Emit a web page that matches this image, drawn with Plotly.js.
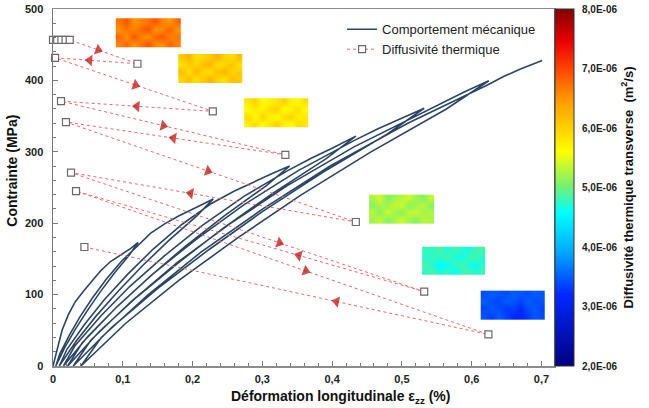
<!DOCTYPE html>
<html>
<head>
<meta charset="utf-8">
<script src="https://cdn.plot.ly/plotly-3.0.1.min.js"></script>
<style>
  html, body { margin: 0; padding: 0; background: #fff; }
  #chart { width: 649px; height: 408px; }
</style>
</head>
<body>
<div id="chart"></div>
<script>
// Cyclic tensile test: stress (MPa) against longitudinal strain (%)
// first loading, then for each cycle: unloading, reloading and further loading
const strain = [
  0, 0.006, 0.013, 0.022, 0.032, 0.043, 0.055, 0.068, 0.082, 0.1, 0.112, 0.122,
  0.1096, 0.0878, 0.0677, 0.0494, 0.0323, 0.017, 0.004,
  0.0099, 0.0235, 0.0388, 0.0565, 0.076, 0.0984, 0.120,
  0.14, 0.16, 0.18, 0.205, 0.2297,
  0.2065, 0.1657, 0.1282, 0.094, 0.062, 0.0333, 0.009,
  0.0200, 0.0454, 0.0741, 0.1072, 0.1436, 0.1856, 0.2277,
  0.26, 0.29, 0.315, 0.339,
  0.305, 0.245, 0.19, 0.1397, 0.0928, 0.0506, 0.015,
  0.0312, 0.0685, 0.1106, 0.1592, 0.2126, 0.2742, 0.337,
  0.37, 0.40, 0.434,
  0.3906, 0.3142, 0.244, 0.18, 0.1201, 0.0664, 0.021,
  0.0417, 0.0892, 0.1428, 0.2048, 0.2729, 0.3514, 0.432,
  0.465, 0.50, 0.532,
  0.4792, 0.3861, 0.3006, 0.2227, 0.1497, 0.0843, 0.029,
  0.0542, 0.112, 0.1774, 0.2528, 0.3358, 0.4314, 0.530,
  0.56, 0.59, 0.6246,
  0.5632, 0.4551, 0.3557, 0.2651, 0.1803, 0.1043, 0.04,
  0.0692, 0.1365, 0.2125, 0.3002, 0.3966, 0.5077, 0.6226,
  0.645, 0.67, 0.701
];
const stress = [
  0, 25, 50, 72, 90, 104, 118, 133, 146, 158, 165, 173,
  155.7, 129.8, 103.8, 77.9, 51.9, 26, 0,
  17.3, 43.3, 69.2, 95.2, 121.1, 147.1, 167,
  186, 199, 210, 222, 234,
  210.6, 175.5, 140.4, 105.3, 70.2, 35.1, 0,
  23.4, 58.5, 93.6, 128.7, 163.8, 198.9, 228,
  245, 259, 270, 280,
  252, 210, 168, 126, 84, 42, 0,
  28, 70, 112, 154, 196, 238, 274,
  291, 305, 322,
  289.8, 241.5, 193.2, 144.9, 96.6, 48.3, 0,
  32.2, 80.5, 128.8, 177.1, 225.4, 273.7, 316,
  332, 347, 361,
  324.9, 270.8, 216.6, 162.5, 108.3, 54.2, 0,
  36.1, 90.3, 144.4, 198.6, 252.7, 306.9, 355,
  370, 384, 399.5,
  359.6, 299.6, 239.7, 179.8, 119.9, 59.9, 0,
  40, 99.9, 159.8, 219.7, 279.7, 339.6, 393.5,
  405, 416, 428
];

// Transverse thermal diffusivity (1e-6 m2/s), in measurement order
const diffStrain = [0, 0.006, 0.012, 0.018, 0.024, 0.121, 0.003, 0.229, 0.0115,
                    0.333, 0.0186, 0.434, 0.0258, 0.532, 0.033, 0.624, 0.045];
const diffValue  = [7.48, 7.48, 7.48, 7.48, 7.48, 7.08, 7.18, 6.28, 6.45,
                    5.55, 6.10, 4.42, 5.25, 3.25, 4.94, 2.53, 4.00];
// where the direction arrow sits along each leg (fraction of the leg)
const arrowAt = [0.42, 0.58, 0.51, 0.50, 0.456, 0.51, 0.49, 0.58, 0.59, 0.36, 0.557, 0.376];

// Diffusivity maps of the specimen (1e-6 m2/s) and the strain/stress box each one occupies
const mapBoxes = [
  [0.090, 0.183, 446, 487],
  [0.1795, 0.271, 397, 437],
  [0.274, 0.366, 334, 375],
  [0.453, 0.546, 200, 240],
  [0.529, 0.619, 128, 167],
  [0.613, 0.705, 65.5, 105.5]
];
const mapValues = [
  [[6.6, 6.8, 6.5, 6.7, 6.9, 6.6, 6.5, 6.8, 6.6],
   [6.8, 6.5, 6.9, 6.6, 6.5, 6.8, 6.9, 6.6, 6.7],
   [6.5, 6.7, 6.6, 6.8, 6.9, 6.5, 6.6, 6.8, 6.5],
   [6.7, 6.9, 6.5, 6.6, 6.7, 6.9, 6.6, 6.5, 6.8]],
  [[5.95, 6.15, 5.85, 6.05, 6.25, 5.95, 5.85, 6.15, 6.05],
   [6.15, 5.85, 6.25, 5.95, 5.85, 6.15, 6.25, 5.95, 6.05],
   [5.85, 6.05, 5.95, 6.15, 6.25, 5.85, 5.95, 6.15, 5.85],
   [6.05, 6.25, 5.85, 5.95, 6.05, 6.25, 5.95, 5.85, 6.15]],
  [[5.7, 5.9, 5.6, 5.8, 6.0, 5.7, 5.6, 5.9, 5.8],
   [5.9, 5.6, 6.0, 5.7, 5.6, 5.9, 6.0, 5.7, 5.8],
   [5.6, 5.8, 5.7, 5.9, 6.0, 5.6, 5.7, 5.9, 5.6],
   [5.8, 6.0, 5.6, 5.7, 5.8, 6.0, 5.7, 5.6, 5.9]],
  [[5.2, 5.35, 5.1, 5.25, 5.4, 5.2, 5.1, 5.3, 5.25],
   [5.3, 5.1, 5.4, 5.2, 5.1, 5.35, 5.4, 5.2, 5.25],
   [5.1, 5.25, 5.2, 5.35, 5.4, 5.1, 5.2, 5.3, 5.1],
   [5.25, 5.4, 5.1, 5.2, 5.3, 5.4, 5.2, 5.1, 5.35]],
  [[4.75, 4.85, 4.65, 4.8, 4.6, 4.75, 4.85, 4.7, 4.8],
   [4.85, 4.7, 4.55, 4.6, 4.75, 4.85, 4.7, 4.6, 4.75],
   [4.7, 4.8, 4.75, 4.85, 4.7, 4.6, 4.8, 4.85, 4.7],
   [4.8, 4.75, 4.85, 4.7, 4.8, 4.75, 4.65, 4.8, 4.85]],
  [[3.45, 3.3, 3.5, 3.35, 3.2, 3.15, 3.3, 3.45, 3.4],
   [3.35, 3.5, 3.4, 3.3, 3.35, 3.2, 3.4, 3.5, 3.35],
   [3.5, 3.4, 3.35, 3.5, 3.45, 3.35, 3.5, 3.4, 3.45],
   [3.4, 3.5, 3.45, 3.4, 3.5, 3.45, 3.4, 3.5, 3.45]]
];

// Tick labels
const xTickVals = [0, 0.1, 0.2, 0.3, 0.4, 0.5, 0.6, 0.7];
const xTickText = ['0', '0,1', '0,2', '0,3', '0,4', '0,5', '0,6', '0,7'];
const yTickVals = [0, 100, 200, 300, 400, 500];
const yTickText = ['0', '100', '200', '300', '400', '500'];
const cTickVals = [2, 3, 4, 5, 6, 7, 8];
const cTickText = ['2,0E-06', '3,0E-06', '4,0E-06', '5,0E-06', '6,0E-06', '7,0E-06', '8,0E-06'];

const FONT = 'Liberation Sans, Arial, Helvetica, sans-serif';
const traces = [];

// diffusivity maps, drawn under the curves (cells given by their centres)
mapBoxes.forEach((b, i) => {
  const z = mapValues[i];
  const nx = z[0].length, ny = z.length;
  const dx = (b[1] - b[0]) / nx, dy = (b[3] - b[2]) / ny;
  traces.push({
    type: 'heatmap', z: z, x0: b[0] + dx / 2, dx: dx, y0: b[2] + dy / 2, dy: dy,
    zsmooth: 'best', coloraxis: 'coloraxis', hoverinfo: 'skip', showlegend: false
  });
});

traces.push({
  type: 'scatter', mode: 'lines', name: 'Comportement mécanique',
  x: strain, y: stress,
  line: { color: '#2c4563', width: 1.6 }
});

traces.push({
  type: 'scatter', mode: 'lines+markers', name: 'Diffusivité thermique',
  x: diffStrain, y: diffValue, yaxis: 'y2', cliponaxis: false,
  line: { color: '#e36b6b', width: 1, dash: 'dot' },
  marker: { symbol: 'square', size: 7, color: '#ffffff', line: { color: '#6a6a6a', width: 1.2 } }
});

// direction arrows: each one is preceded by an invisible point at the start of its leg
const arX = [], arY = [], arS = [];
arrowAt.forEach((t, i) => {
  const a = i + 4, b = a + 1;
  arX.push(diffStrain[a]); arY.push(diffValue[a]); arS.push(0);
  arX.push(diffStrain[a] + t * (diffStrain[b] - diffStrain[a]));
  arY.push(diffValue[a] + t * (diffValue[b] - diffValue[a]));
  arS.push(10);
});
traces.push({
  type: 'scatter', mode: 'markers', x: arX, y: arY, yaxis: 'y2', showlegend: false,
  hoverinfo: 'skip',
  marker: { symbol: 'triangle-up', size: arS, color: '#c00000', angleref: 'previous', line: { width: 0 } }
});

const tickFont = { family: FONT, size: 11, color: '#222', weight: 'bold' };

const layout = {
  width: 649, height: 408,
  margin: { l: 53, r: 95, t: 9, b: 42 },
  paper_bgcolor: '#ffffff', plot_bgcolor: '#ffffff',
  font: { family: FONT, color: '#222' },
  xaxis: {
    range: [0, 0.718], tickmode: 'array', tickvals: xTickVals, ticktext: xTickText,
    ticks: 'inside', ticklen: 5, tickcolor: '#7a7a7a', tickwidth: 1,
    showline: true, linecolor: '#8c8c8c', linewidth: 1.5, mirror: true,
    showgrid: false, zeroline: false, tickfont: tickFont, ticklabelstandoff: 2,
    minor: { tick0: 0, dtick: 0.02, ticks: 'inside', ticklen: 3, tickcolor: '#7a7a7a' }
  },
  yaxis: {
    range: [0, 500], tickmode: 'array', tickvals: yTickVals, ticktext: yTickText,
    ticks: 'inside', ticklen: 5, tickcolor: '#7a7a7a', tickwidth: 1,
    showline: true, linecolor: '#7a7a7a', linewidth: 1.5, mirror: true,
    showgrid: false, zeroline: false, tickfont: tickFont, ticklabelstandoff: 6,
    minor: { tick0: 0, dtick: 20, ticks: 'inside', ticklen: 3, tickcolor: '#7a7a7a' }
  },
  yaxis2: { overlaying: 'y', range: [2, 8], visible: false },
  coloraxis: {
    cmin: 2, cmax: 8,
    colorscale: [
      [0, 'rgb(0,0,128)'], [0.2, 'rgb(0,40,255)'], [0.32, 'rgb(0,170,255)'],
      [0.43, 'rgb(0,255,255)'], [0.5, 'rgb(110,240,120)'], [0.6, 'rgb(255,255,0)'],
      [0.75, 'rgb(255,150,0)'], [0.83, 'rgb(255,70,0)'], [0.91, 'rgb(235,0,0)'],
      [1, 'rgb(128,0,0)']
    ],
    colorbar: {
      x: 1.002, xanchor: 'left', xpad: 0, y: 0.5, yanchor: 'middle', ypad: 0,
      len: 1, lenmode: 'fraction', thickness: 19,
      outlinewidth: 1, outlinecolor: '#333',
      tickmode: 'array', tickvals: cTickVals, ticktext: cTickText,
      ticks: 'outside', ticklen: 6, tickcolor: 'rgba(0,0,0,0)',
      tickfont: { family: FONT, size: 10, color: '#222', weight: 'bold' },
      title: {
        text: 'Diffusivité thermique transverse  (m<sup>2</sup>/s)', side: 'right',
        font: { family: FONT, size: 13, color: '#111', weight: 'bold' }
      }
    }
  },
  legend: {
    x: 0.577, y: 0.985, xanchor: 'left', yanchor: 'top',
    bgcolor: 'rgba(0,0,0,0)', font: { family: FONT, size: 13, color: '#222' }
  },
  annotations: [
    {
      xref: 'paper', yref: 'paper', x: 0.573, y: -0.087, xanchor: 'center', yanchor: 'middle',
      showarrow: false, text: 'Déformation longitudinale ε<sub>zz</sub> (%)',
      font: { family: FONT, size: 14, color: '#111', weight: 'bold' }
    },
    {
      xref: 'paper', yref: 'paper', x: -0.082, y: 0.547, xanchor: 'center', yanchor: 'middle',
      showarrow: false, textangle: -90, text: 'Contrainte (MPa)',
      font: { family: FONT, size: 14, color: '#111', weight: 'bold' }
    }
  ]
};

Plotly.newPlot('chart', traces, layout, { displayModeBar: false, staticPlot: true });
</script>
</body>
</html>
